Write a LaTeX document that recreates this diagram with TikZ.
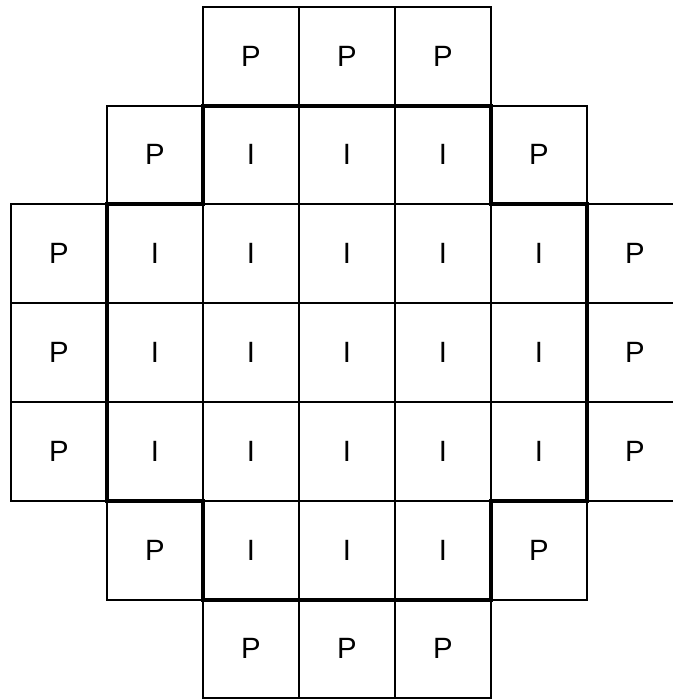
\documentclass[tikz,border=0pt]{standalone}
\usepackage{fontspec}
\setmainfont{Liberation Sans}
\begin{document}
\begin{tikzpicture}[x=0.75pt,y=-0.75pt,
  cell/.style={draw, line width=1.5pt, outer sep=0pt, inner sep=0pt,
    minimum width=72pt, minimum height=74.1pt,
    font=\fontsize{22}{26}\selectfont},
  region/.style={draw, line width=3pt, line join=miter}]
\useasboundingbox (0,0) rectangle (673,700);
\clip (0,0) rectangle (673,700);
\foreach \r/\c/\t in {0/2/P,0/3/P,0/4/P,
  1/1/P,1/2/I,1/3/I,1/4/I,1/5/P,
  2/0/P,2/1/I,2/2/I,2/3/I,2/4/I,2/5/I,2/6/P,
  3/0/P,3/1/I,3/2/I,3/3/I,3/4/I,3/5/I,3/6/P,
  4/0/P,4/1/I,4/2/I,4/3/I,4/4/I,4/5/I,4/6/P,
  5/1/P,5/2/I,5/3/I,5/4/I,5/5/P,
  6/2/P,6/3/P,6/4/P}
  \node[cell] (c\r-\c) at ({59+96*\c},{56.1+98.8*\r}) {\t};
\draw[region] (c1-2.north west) -- (c1-4.north east) -- (c2-5.north west)
  -- (c2-5.north east) -- (c4-5.south east) -- (c4-5.south west)
  -- (c5-4.south east) -- (c5-2.south west) -- (c4-1.south east)
  -- (c4-1.south west) -- (c2-1.north west) -- (c2-1.north east) -- cycle;
\end{tikzpicture}
\end{document}
